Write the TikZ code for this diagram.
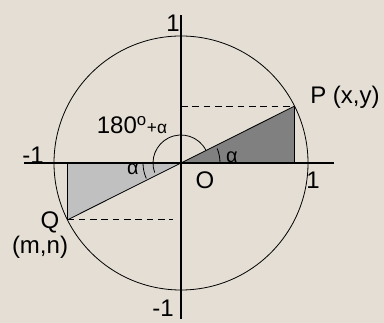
\documentclass[tikz,border=0pt]{standalone}
\usepackage{fontspec}
\setmainfont{Liberation Sans}
\usepackage{xcolor}
\usetikzlibrary{positioning,calc}
\definecolor{paper}{RGB}{228,222,212}
\definecolor{darkwedge}{RGB}{128,128,128}
\definecolor{lightwedge}{RGB}{192,192,192}

\begin{document}
\begin{tikzpicture}[
    x=0.75pt,y=0.75pt,
    lbl/.style={inner sep=0pt,font=\fontsize{18}{20}\selectfont},
    small/.style={inner sep=0pt,font=\fontsize{15}{17}\selectfont},
    axis/.style={line width=0.9pt},
    thin line/.style={line width=0.6pt},
    dash line/.style={line width=0.6pt,dash pattern=on 5pt off 3.5pt}
  ]
    \fill[paper] (-181,-160) rectangle (203,163);
    \useasboundingbox (-181,-160) rectangle (203,163);
    % points
    \coordinate (O) at (0,0);
    \coordinate (P) at (26.6:127);
    \coordinate (Q) at (206.6:127);
    \coordinate (Px) at (P |- O);
    \coordinate (Qx) at (Q |- O);
    \coordinate (Py) at (P -| O);
    \coordinate (Qy) at ($(Q -| O)+(-8,0)$);
    % wedges
    \fill[darkwedge] (O) -- (P) -- (Px) -- cycle;
    \fill[lightwedge] (O) -- (Q) -- (Qx) -- cycle;
    \draw[thin line] (P) -- (Q);
    \draw[thin line] (P) -- (Px);
    \draw[thin line] (Q) -- (Qx);
    \draw[dash line] (Py) -- (P);
    \draw[dash line] (Q) -- (Qy);
    % circle and axes
    \draw[thin line] (O) circle (127);
    \coordinate (xl) at (-157,0);
    \coordinate (xr) at (153,0);
    \coordinate (yt) at (0,148);
    \coordinate (yb) at (0,-156);
    \draw[axis] (xl) -- (xr);
    \draw[axis] (yb) -- (yt);
    % angle marks
    \draw[thin line] (26.6:28) arc (26.6:200:28);
    \draw[thin line] (0:39) arc (0:22:39);
    \draw[thin line] (180:38) arc (180:204:38);
    % labels
    \node[lbl] (top) at (-8,140) {1};
    \node[lbl] (bottom) at (-18,-145) {-1};
    \node[lbl] (left) at (-148,8) {-1};
    \node[lbl] (right) at (132,-17) {1};
    \node[lbl] (orig) at (24,-17) {O};
    \node[lbl] (plbl) at (164,66) {P (x,y)};
    \node[lbl] (qlbl) at (-131,-59) {Q};
    \node[lbl] (mn) at (-141,-84) {(m,n)};
    \node[lbl] (ang) at (-49,38) {180\textsuperscript{o}{\fontsize{13}{15}\selectfont+α}};
    \node[small] (ar) at (51,6) {α};
    \node[small] (al) at (-48,-6) {α};
  \end{tikzpicture}
\end{document}
